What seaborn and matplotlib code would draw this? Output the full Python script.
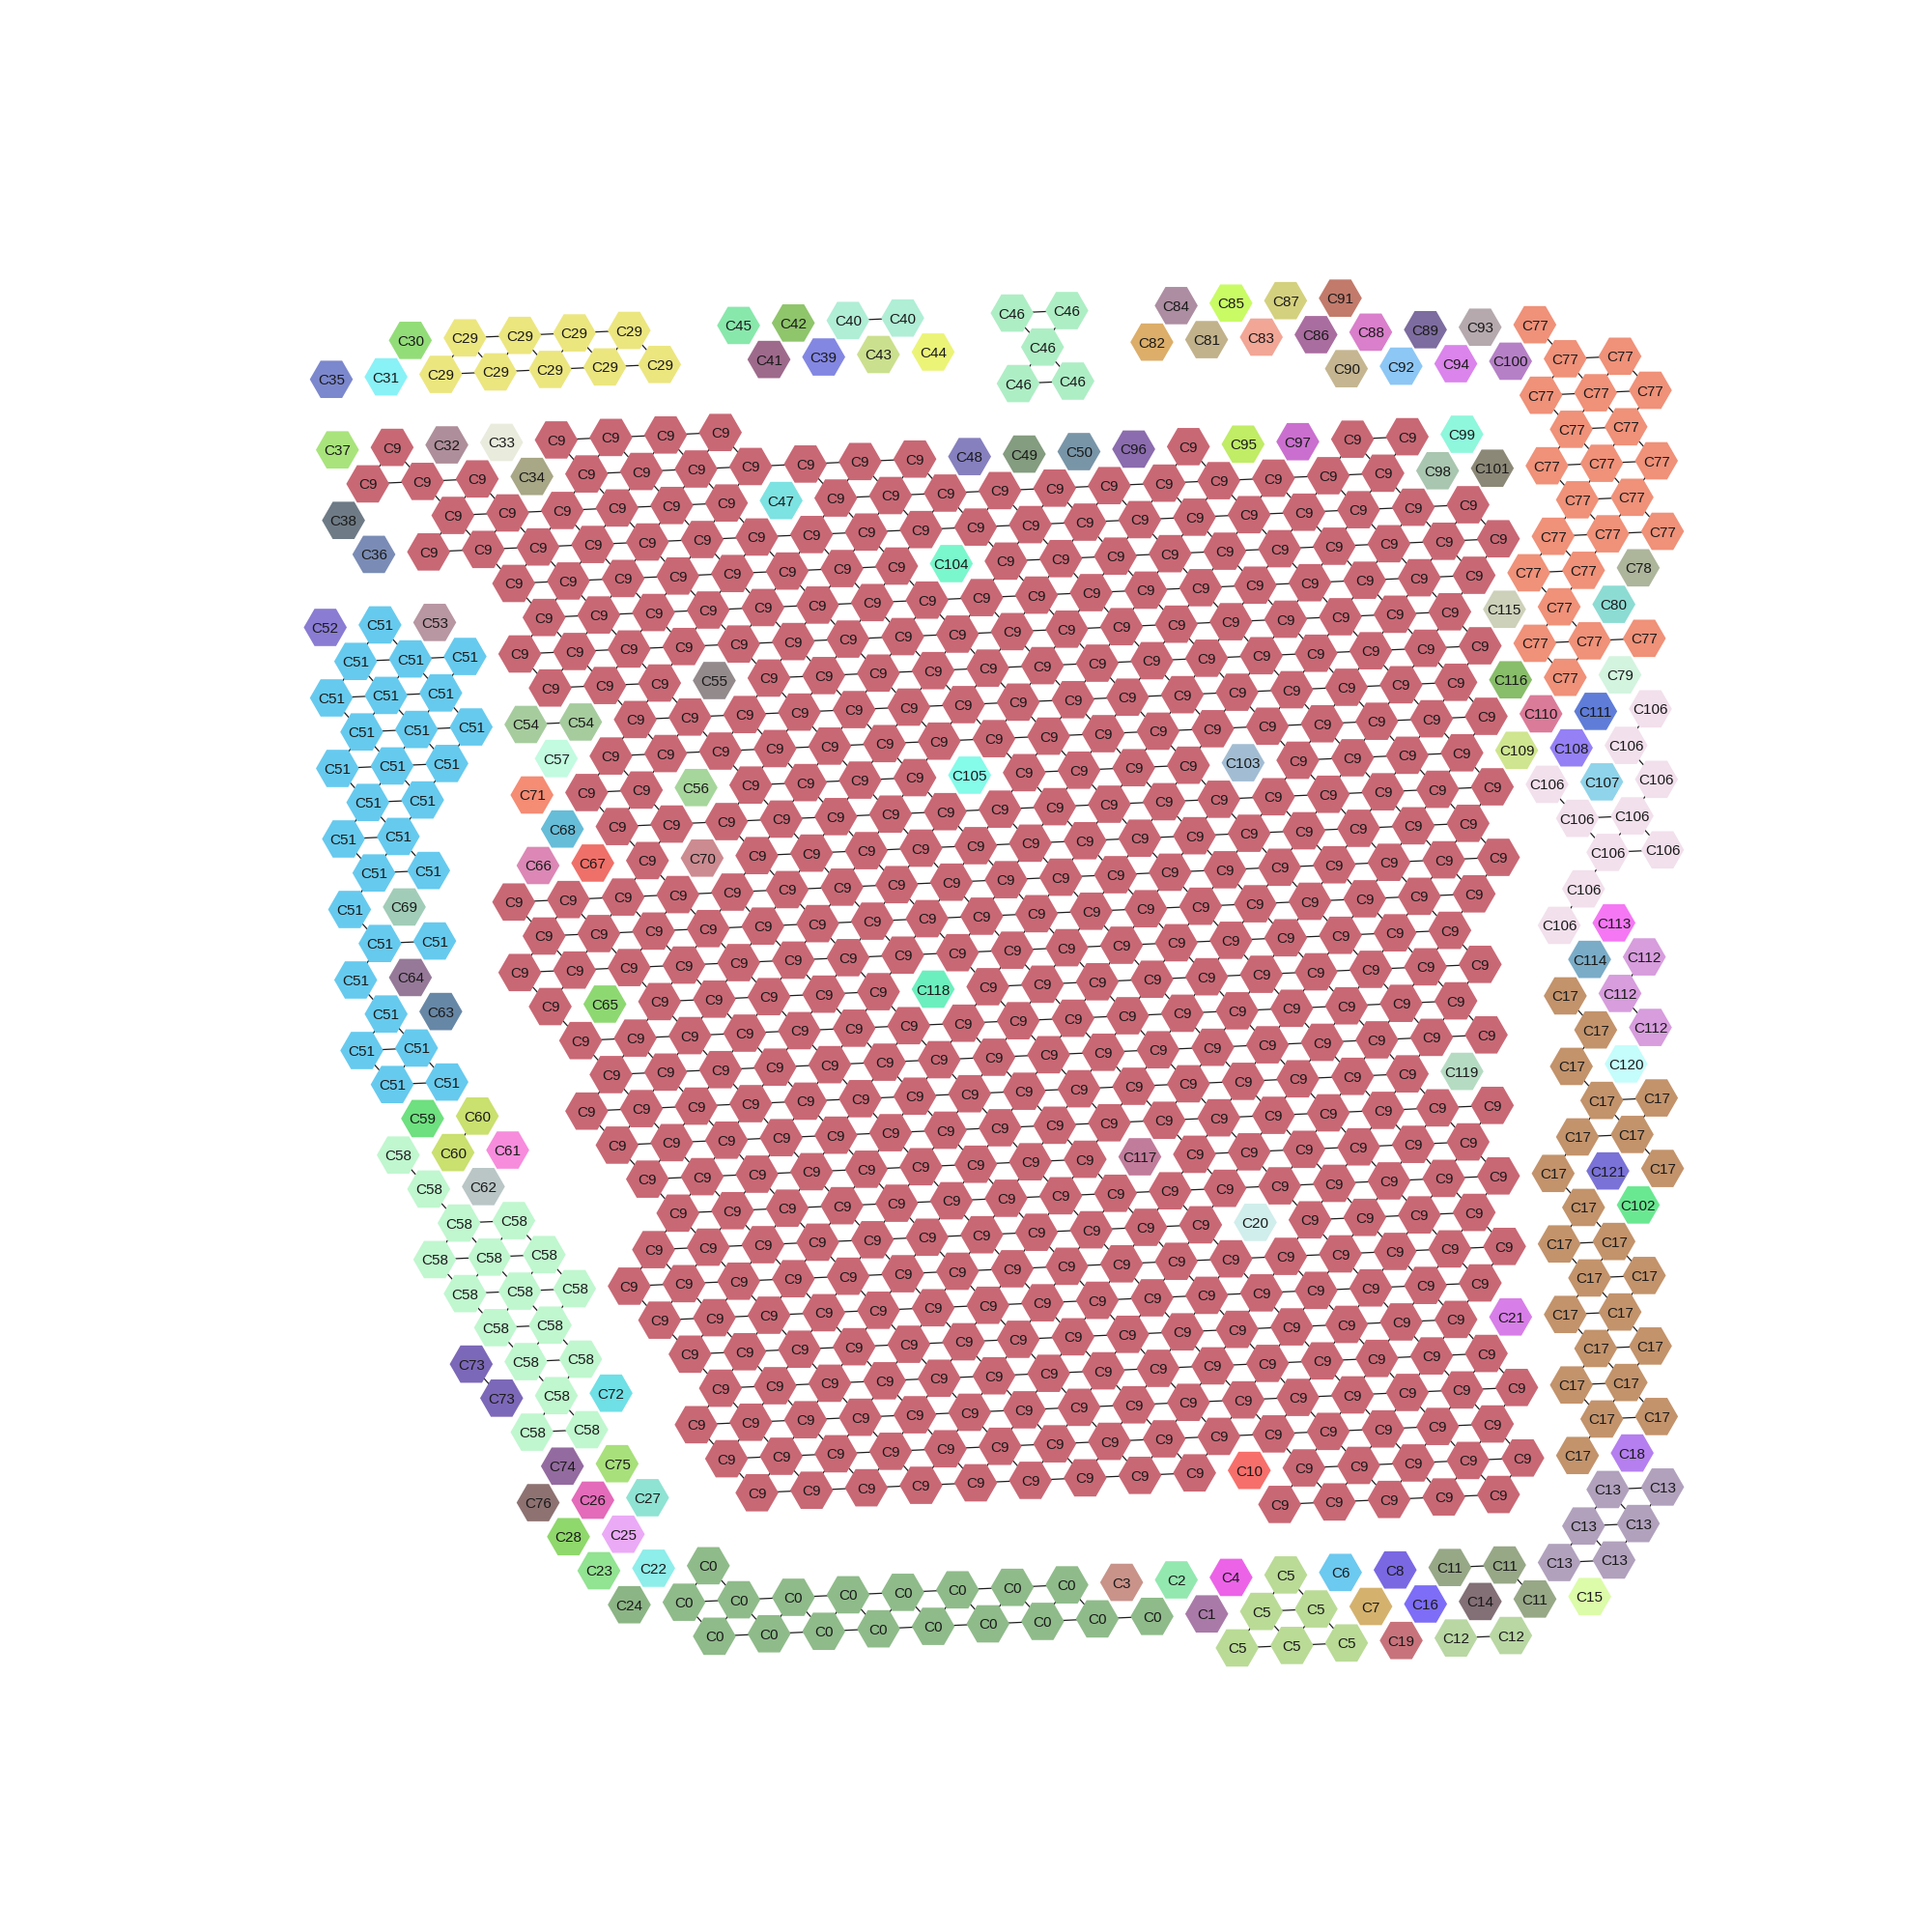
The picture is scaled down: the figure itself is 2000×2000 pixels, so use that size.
import numpy as np
import pandas as pd
import matplotlib.pyplot as plt
import seaborn as sns
from matplotlib.collections import LineCollection

# spots of the capture array, one string per array row
# token "col:cluster" or "first..last:cluster" (every 2nd column), later tokens overwrite
row_ids = list(range(-3, 36))
row_spots = [
    "3:30 5..11:29 15:45 17:42 19..21:40 25..27:46 31:84 33:85 35:87 37:91",
    "0:35 2:31 4..12:29 16:41 18:39 20:43 22:44 26:46 30:82 32:81 34:83 36:86 38:88 40:89 42:93 44:77",
    "25..27:46 37:90 39:92 41:94 43:100 45..47:77",
    "0:37 2:9 4:32 6:33 8..14:9 44..48:77",
    "1..39:9 7:34 23:48 25:49 27:50 29:96 33:95 35:97 41:99 45..47:77",
    "0:38 4..38:9 16:47 40:98 42:101 44..48:77",
    "1:36 3..41:9 45..47:77",
    "6..42:9 22:104 44..48:77",
    "-1:52 1:51 3:53 7..41:9 43..45:77 47:78",
    "0..4:51 6..40:9 42:115 44:77 46:80",
    "-1..3:51 7..41:9 13:55 43..47:77",
    "0..4:51 6..8:54 10..40:9 42:116 44:77 46:79",
    "-1..3:51 7:57 9..41:9 43:110 45:111 47:106",
    "0..2:51 6:71 8..40:9 12:56 22:105 32:103 42:109 44:108 46:106",
    "-1..1:51 7:68 9..41:9 43:106 45:107 47:106",
    "0..2:51 6:66 8:67 10..40:9 12:70 44..46:106",
    "-1:51 1:69 5..41:9 45..47:106",
    "0..2:51 6..40:9 44:106",
    "-1:51 1:64 5..39:9 43:106 45:113",
    "0:51 2:63 6..40:9 8:65 20:118 44:114 46:112",
    "-1..1:51 7..39:9 43:17 45:112",
    "0..2:51 8..40:9 44:17 46:112",
    "1:59 3:60 7..37:9 39:119 43:17 45:120",
    "0:58 2:60 4:61 8..40:9 44..46:17",
    "1:58 3:62 9..39:9 27:117 43..45:17",
    "2..4:58 10..40:9 42:17 44:121 46:17",
    "1..5:58 9..39:9 31:20 43:17 45:102",
    "2..6:58 8..40:9 42..44:17",
    "3..5:58 9..39:9 43..45:17",
    "2:73 4..6:58 10..38:9 40:21 42..44:17",
    "3:73 5:58 7:72 11..39:9 43..45:17",
    "4..6:58 10..40:9 42..44:17",
    "5:74 7:75 11..39:9 43..45:17",
    "4:76 6:26 8:27 12..40:9 30:10 42:17 44:18",
    "5:28 7:25 31..39:9 43..45:13",
    "6:23 8:22 10:0 42..44:13",
    "7:24 9..23:0 25:3 27:2 29:4 31:5 33:6 35:8 37..39:11 41..43:13",
    "10..26:0 28:1 30..32:5 34:7 36:16 38:14 40:11 42:15",
    "29..33:5 35:19 37..39:12",
]

# cluster colours
colors = {
    0: '#8fbb8a', 1: '#a97aa8', 2: '#93e8b0', 3: '#c9938a', 4: '#ec63e8',
    5: '#badb96', 6: '#6cc9ef', 7: '#d4b26e', 8: '#7a68e3', 9: '#c96875',
    10: '#f76f6b', 11: '#97a887', 12: '#b9d7a3', 13: '#b1a1bd', 14: '#836f76',
    15: '#dcfca9', 16: '#7d6df7', 17: '#c3936b', 18: '#b57ff0', 19: '#c8737b',
    20: '#d0eeec', 21: '#d87ee8', 22: '#8eeeea', 23: '#92e392', 24: '#8cb585',
    25: '#ebaaf6', 26: '#e46bba', 27: '#8fe3d3', 28: '#8fd86b', 29: '#ece67f',
    30: '#93dd79', 31: '#88f2f7', 32: '#ae8e9a', 33: '#e9ebdc', 34: '#a8a786',
    35: '#7c88cd', 36: '#7a8cb5', 37: '#a8e47b', 38: '#6e7b86', 39: '#8387e2',
    40: '#b0eed6', 41: '#9e6a8c', 42: '#8fc56b', 43: '#cbe08e', 44: '#ecf477',
    45: '#88e8ab', 46: '#aeeec5', 47: '#7de2e2', 48: '#8680bf', 49: '#849c7f',
    50: '#7895a8', 51: '#66caee', 52: '#8a7cd3', 53: '#b896a2', 54: '#a6cc9e',
    55: '#938a8c', 56: '#a6d69b', 57: '#c2fbe0', 58: '#c0f7cf', 59: '#6ee07f',
    60: '#cae06f', 61: '#f78cdc', 62: '#bac6c6', 63: '#6787a6', 64: '#967999',
    65: '#8ed872', 66: '#dc87b5', 67: '#ef7069', 68: '#66bdd8', 69: '#a1cdb8',
    70: '#cc8b91', 71: '#f58c74', 72: '#6ee0e6', 73: '#7c68b8', 74: '#946ba0',
    75: '#a8e07b', 76: '#8e7272', 77: '#f09179', 78: '#adb59b', 79: '#d3f4df',
    80: '#8cdcd3', 81: '#c2b28b', 82: '#dcae69', 83: '#f2a696', 84: '#ad8da2',
    85: '#c9fb65', 86: '#a96d9f', 87: '#d4d17e', 88: '#da7fcb', 89: '#7d6c9f',
    90: '#c5b691', 91: '#c27a6b', 92: '#8dc7f5', 93: '#b5a9ae', 94: '#db84ec',
    95: '#c0ec66', 96: '#8b6cae', 97: '#ca6fcf', 98: '#a9c6b0', 99: '#8ef7dc',
    100: '#b680c7', 101: '#8c8877', 102: '#6ae891', 103: '#a2bdd3', 104: '#7af7cc',
    105: '#85fbea', 106: '#f2e0ec', 107: '#8fd4ea', 108: '#9580f6', 109: '#cfe58f',
    110: '#db7b9a', 111: '#5f7dd8', 112: '#d79ddd', 113: '#f577f4', 114: '#7aacc7',
    115: '#cdd1b9', 116: '#88bd69', 117: '#c17c9b', 118: '#6cefbe', 119: '#b5dcc3',
    120: '#c4fdfb', 121: '#7a72d6',
}

# parse the rows
cells = {}
for r, spec in zip(row_ids, row_spots):
    for tok in spec.split():
        span, lab = tok.split(':')
        a, _, b = span.partition('..')
        a = int(a)
        b = int(b) if b else a
        for c in range(a, b + 1, 2):
            cells[(r, c)] = int(lab)

df = pd.DataFrame([(r, c, lab) for (r, c), lab in cells.items()],
                  columns=['row', 'col', 'cluster'])
df['label'] = 'C' + df['cluster'].astype(str)

# array -> image pixel transform (slightly rotated / sheared slide)
df['x'] = 349.3 + 28.315 * df['col'] + 3.15 * df['row']
df['y'] = 465.7 - 1.285 * df['col'] + 36.5 * df['row']
pos = {(r, c): (x, y) for r, c, x, y in zip(df.row, df.col, df.x, df.y)}

# neighbour links inside the same cluster
segs = []
for (r, c), lab in cells.items():
    for dr, dc in ((0, 2), (1, 1), (1, -1)):
        if cells.get((r + dr, c + dc)) == lab:
            segs.append([pos[(r, c)], pos[(r + dr, c + dc)]])

palette = {f'C{k}': v for k, v in colors.items()}

sns.set_theme(style='white')
fig = plt.figure(figsize=(10, 10), dpi=200)
ax = fig.add_axes([0, 0, 1, 1])

ax.add_collection(LineCollection(segs, colors='#1e1e1e', linewidths=0.45, zorder=1))
sns.scatterplot(data=df, x='x', y='y', hue='label', palette=palette, marker='H',
                s=258, linewidth=0, legend=False, ax=ax, zorder=2)

for x, y, lab in zip(df.x, df.y, df.label):
    ax.text(x, y, lab, ha='center', va='center_baseline', fontsize=5.5,
            color='#1a1a1a', zorder=3,
            family=['Liberation Sans Narrow', 'Liberation Sans', 'DejaVu Sans'])

ax.set_xlim(0, 2000)
ax.set_ylim(2000, 0)
ax.axis('off')

fig.savefig('out.png', dpi=200, facecolor='white')
